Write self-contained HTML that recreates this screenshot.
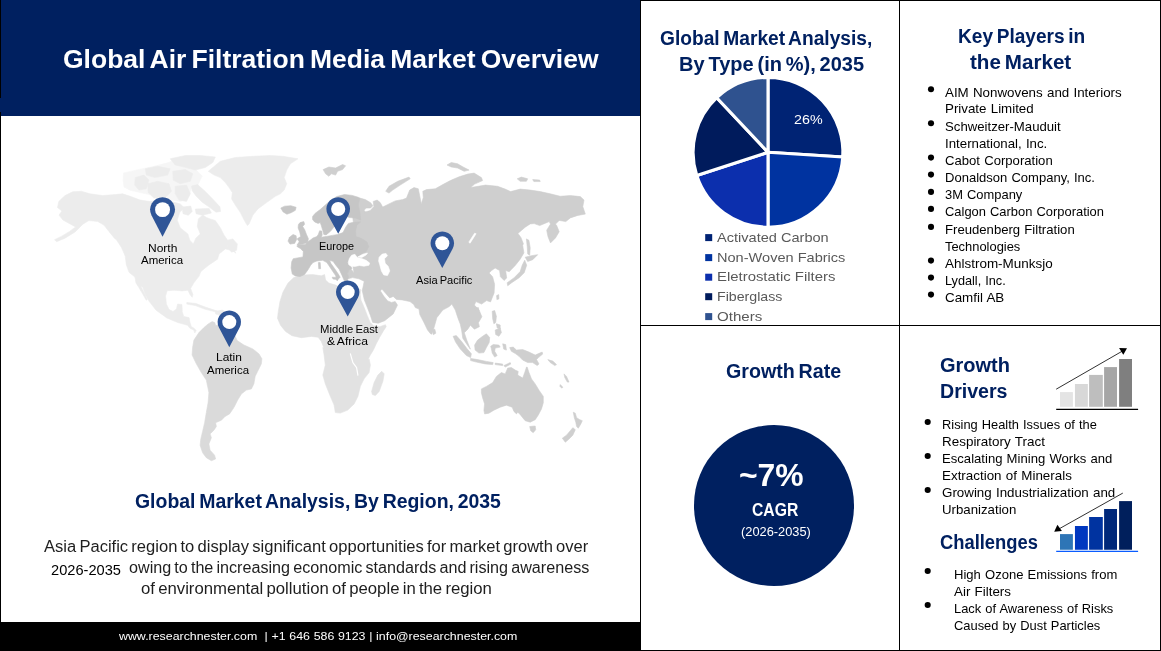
<!DOCTYPE html>
<html lang="en"><head><meta charset="utf-8"><title>Global Air Filtration Media Market Overview</title>
<style>
html,body{margin:0;padding:0;background:#fff}
body{width:1161px;height:651px;position:relative;overflow:hidden;font-family:'Liberation Sans', sans-serif}
.t{position:absolute;white-space:pre;line-height:1;transform-origin:0 50%;display:block}
#hdr{position:absolute;left:0;top:0;width:640px;height:115.6px;background:#002060}
#ftr{position:absolute;left:0;top:622px;width:640px;height:29px;background:#000}
.ln{position:absolute;background:#000}
#art{position:absolute;left:0;top:0}
#cagr{position:absolute;left:693.8px;top:425.3px;width:160.4px;height:160.4px;border-radius:50%;background:#002060}
</style></head><body>
<div id="hdr"></div>
<div id="ftr"></div>
<div id="cagr"></div>
<svg id="art" width="1161" height="651" viewBox="0 0 1161 651">
<g id="map"><path d="M72.6 191.8L65.0 195.6L58.8 201.4L57.5 207.6L62.0 210.9L59.0 215.1L63.0 220.1L70.1 223.9L75.6 226.9L69.6 231.4L61.3 236.4L54.5 239.7L56.5 241.7L65.0 238.2L75.1 231.9L82.6 224.4L88.8 220.6L97.6 221.4L103.9 225.1L108.9 231.4L114.4 238.2L116.6 240.0L121.5 247.5L125.2 256.1L126.3 264.7L129.0 272.3L134.9 277.0L136.0 283.0L138.7 287.3L143.0 294.5L146.3 300.2L147.3 299.5L144.6 293.8L141.5 287.6L140.7 286.6L142.6 286.9L145.3 294.5L148.7 300.7L156.1 310.2L166.8 317.9L177.6 322.5L187.6 325.3L189.9 328.3L193.7 329.9L194.8 332.9L196.3 330.5L193.7 328.0L191.4 326.8L189.9 322.2L189.1 317.6L183.7 316.4L182.2 311.4L182.2 309.1L181.9 304.5L177.6 304.1L176.4 309.1L173.0 311.4L169.1 309.6L166.4 304.1L165.6 296.1L167.1 290.7L174.5 290.2L182.2 290.9L188.0 290.2L189.9 294.5L192.2 297.3L192.9 294.5L190.6 288.4L193.7 283.0L199.1 276.1L200.9 271.5L208.3 265.4L217.5 259.2L219.1 253.9L225.3 248.9L232.8 250.7L235.8 253.2L231.6 245.2L226.6 240.7L230.3 243.9L224.1 235.2L220.3 227.7L215.3 220.6L210.3 218.9L206.5 217.6L202.8 215.1L198.3 218.9L197.3 226.4L200.3 233.9L195.8 238.2L193.3 243.9L189.8 240.2L187.8 233.9L180.2 227.7L177.2 220.1L179.7 212.6L184.0 207.6L180.2 203.9L175.2 202.6L165.2 200.1L150.2 201.6L140.2 200.1L130.2 196.3L122.6 193.8L115.1 194.6L102.6 195.6L90.1 193.8L81.3 191.3Z" fill="#ececec" stroke="#ececec" stroke-width="0.6" stroke-linejoin="round"/>
<path d="M123.1 180.0L123.5 173.0L139.2 169.4L153.0 166.6L168.4 162.6L176.1 159.5L180.7 165.4L194.5 168.4L202.2 176.1L197.6 185.3L191.4 186.9L189.1 196.1L180.7 201.5L168.4 199.5L157.6 196.1L145.4 193.8L130.0 190.2L123.9 186.9Z" fill="#f6f6f6" stroke="#f6f6f6" stroke-width="0.6" stroke-linejoin="round"/>
<path d="M227.3 240.2L232.8 238.9L237.3 243.9L236.6 250.2L231.6 252.2L227.8 247.7Z" fill="#ececec" stroke="#ececec" stroke-width="0.6" stroke-linejoin="round"/>
<path d="M135.2 177.6L143.9 175.1L148.9 180.1L146.4 188.8L138.9 190.1L134.7 185.1Z" fill="#ececec" stroke="#ececec" stroke-width="0.6" stroke-linejoin="round"/>
<path d="M147.7 183.8L157.7 181.3L169.0 183.8L171.5 191.3L165.2 197.6L153.9 198.1L148.2 192.6Z" fill="#ececec" stroke="#ececec" stroke-width="0.6" stroke-linejoin="round"/>
<path d="M145.2 168.8L157.7 166.3L170.2 168.8L167.7 175.1L155.2 177.6L146.4 175.1Z" fill="#ececec" stroke="#ececec" stroke-width="0.6" stroke-linejoin="round"/>
<path d="M172.7 171.3L185.3 169.6L192.8 173.8L190.3 181.3L180.2 183.8L173.2 180.1Z" fill="#ececec" stroke="#ececec" stroke-width="0.6" stroke-linejoin="round"/>
<path d="M175.2 186.3L186.5 185.1L190.3 193.8L186.5 201.4L179.0 200.1L175.2 193.8Z" fill="#ececec" stroke="#ececec" stroke-width="0.6" stroke-linejoin="round"/>
<path d="M170.2 158.8L185.3 155.5L200.3 155.5L215.3 157.0L212.8 162.5L205.3 167.5L195.3 170.1L184.0 167.0L175.2 165.0Z" fill="#ececec" stroke="#ececec" stroke-width="0.6" stroke-linejoin="round"/>
<path d="M191.4 186.1L197.6 184.6L205.3 191.5L212.9 199.2L219.9 206.8L220.6 211.4L216.0 212.2L209.9 207.6L202.2 202.2L196.1 196.1L192.2 190.7Z" fill="#ececec" stroke="#ececec" stroke-width="0.6" stroke-linejoin="round"/>
<path d="M182.2 207.1L190.7 206.1L192.2 211.4L188.4 215.3L183.0 213.7Z" fill="#ececec" stroke="#ececec" stroke-width="0.6" stroke-linejoin="round"/>
<path d="M195.3 209.1L209.1 208.4L211.4 213.0L202.2 215.3L196.1 213.7Z" fill="#ececec" stroke="#ececec" stroke-width="0.6" stroke-linejoin="round"/>
<path d="M212.8 167.5L220.3 161.3L235.3 157.5L252.9 156.3L270.4 155.5L282.9 156.3L298.0 158.8L290.4 163.8L286.7 170.1L284.2 177.6L286.7 183.8L284.2 190.1L280.4 193.8L275.4 196.3L266.6 202.6L257.9 208.9L252.9 215.1L249.1 223.9L247.4 225.6L244.1 220.1L240.4 212.6L235.3 205.1L231.6 198.9L232.3 192.6L229.1 187.6L225.3 182.6L220.3 177.6L214.1 175.1L208.3 171.3Z" fill="#ececec" stroke="#ececec" stroke-width="0.6" stroke-linejoin="round"/>
<path d="M186.8 302.5L196.0 303.5L205.2 307.1L217.5 311.1L216.8 312.2L204.5 309.1L195.3 305.6L186.8 304.1Z" fill="#ececec" stroke="#ececec" stroke-width="0.6" stroke-linejoin="round"/>
<path d="M215.2 311.3L222.7 310.1L226.5 313.1L221.5 315.6L215.7 314.1Z" fill="#ececec" stroke="#ececec" stroke-width="0.6" stroke-linejoin="round"/>
<path d="M203.9 327.6L208.2 323.9L212.2 321.6L214.7 322.6L215.7 325.6L219.7 324.6L230.2 325.6L237.2 340.6L244.0 345.1L252.8 348.9L259.0 353.9L261.9 358.8L261.4 363.8L257.7 371.3L255.2 376.3L253.9 383.8L251.4 388.9L246.4 390.1L241.4 393.9L237.7 400.1L233.9 407.6L229.6 413.9L225.1 416.4L221.4 420.2L215.6 422.7L216.4 426.4L213.9 430.2L210.1 433.9L211.4 437.7L208.9 443.9L210.1 450.2L214.6 455.2L215.6 459.0L211.4 460.7L206.3 457.7L202.6 452.7L200.1 445.2L200.8 438.9L202.6 431.4L204.6 422.7L206.3 412.6L208.1 402.6L208.9 392.6L206.3 380.1L201.3 372.6L196.3 363.8L192.1 355.0L192.6 347.5L193.9 340.1L198.9 332.6Z" fill="#dadada" stroke="#dadada" stroke-width="0.6" stroke-linejoin="round"/>
<path d="M293.8 277.6L302.6 275.1L312.6 274.6L321.3 275.8L324.6 274.6L325.6 280.1L328.9 283.1L335.6 285.1L341.4 288.1L345.1 285.6L351.4 286.3L356.4 288.1L360.7 289.6L360.2 294.6L360.9 300.1L364.2 307.6L367.2 315.4L370.2 322.4L373.4 325.7L379.7 326.7L385.5 324.7L386.2 326.7L383.4 330.9L379.7 337.2L376.4 343.4L373.4 350.0L370.2 355.2L367.7 360.2L369.1 358.8L370.4 365.1L369.1 372.6L364.1 378.8L360.4 386.3L357.9 396.4L354.1 403.9L347.8 410.1L340.3 413.1L335.3 412.6L334.1 405.1L329.8 395.1L325.3 383.8L322.8 375.1L325.3 365.1L324.1 355.0L322.8 347.5L323.8 347.7L321.3 341.4L318.1 337.2L311.3 336.4L301.3 337.7L292.0 335.7L285.5 331.4L280.5 325.2L277.5 318.2L278.3 311.4L280.0 301.4L283.0 292.1L288.0 283.1Z" fill="#e2e2e2" stroke="#e2e2e2" stroke-width="0.6" stroke-linejoin="round"/>
<path d="M371.6 391.4L374.1 382.6L377.9 375.1L381.7 371.3L384.2 373.8L382.9 381.3L379.2 391.4L375.4 395.6L372.4 394.6Z" fill="#e2e2e2" stroke="#e2e2e2" stroke-width="0.6" stroke-linejoin="round"/>
<path d="M359.9 198.1L365.3 199.6L370.6 202.7L372.9 205.7L370.6 208.0L366.0 208.0L364.2 210.3L366.3 213.4L363.2 212.6L370.2 210.6L373.9 206.4L373.2 201.4L377.2 200.1L380.2 202.6L382.7 207.1L389.0 203.9L395.2 200.9L402.7 199.6L406.5 198.1L409.7 190.1L414.0 187.6L418.3 188.8L419.8 196.3L421.3 203.9L423.3 197.6L422.8 191.3L426.5 189.6L435.3 188.8L442.8 184.6L450.3 180.6L459.1 176.8L467.8 174.1L474.1 173.1L481.4 177.6L482.6 180.6L474.6 184.1L470.6 187.6L478.1 186.3L485.6 185.1L497.6 186.3L505.1 189.1L510.7 191.6L520.2 189.1L530.2 190.1L540.2 191.6L550.2 193.8L560.2 196.3L570.3 195.6L580.3 196.6L584.0 200.1L582.8 206.6L585.3 214.1L577.8 215.4L570.3 217.9L565.8 221.6L559.2 220.4L555.5 224.1L556.7 225.6L559.2 231.7L555.5 237.9L550.5 242.9L548.0 236.7L546.7 230.2L550.5 224.1L549.2 221.6L546.0 222.9L539.7 225.6L534.2 223.6L530.2 223.9L525.2 227.2L517.9 233.4L520.9 237.4L523.4 243.7L522.7 245.4L523.9 252.9L520.2 259.2L515.2 265.5L509.2 271.7L505.6 270.5L506.7 278.0L504.1 280.5L500.4 276.7L499.6 270.5L495.1 268.0L491.6 270.5L489.1 273.0L492.6 276.7L494.6 284.3L494.1 293.0L490.6 301.8L490.6 301.9L486.6 300.6L481.6 304.1L475.9 301.6L474.4 305.1L479.1 310.1L481.9 316.7L478.4 322.7L479.4 326.7L474.4 329.2L470.4 325.2L467.8 329.2L464.3 332.7L466.8 340.2L470.4 349.2L467.8 345.7L462.8 338.2L461.6 330.2L460.3 324.2L457.8 317.7L455.3 310.1L451.8 304.1L449.3 306.6L442.8 310.1L436.8 317.7L434.3 326.7L431.8 334.2L430.5 333.7L427.5 329.9L423.8 322.2L419.8 314.6L419.0 309.1L415.3 307.6L413.8 304.6L410.0 301.6L402.2 299.9L396.5 299.4L393.2 296.4L389.7 297.9L381.9 289.1L380.4 290.9L383.7 296.1L387.7 300.9L391.5 302.4L395.2 301.6L397.5 305.1L393.2 313.9L384.7 320.7L378.2 323.2L372.7 322.4L370.4 315.4L367.4 307.6L364.4 300.1L362.2 290.4L363.2 286.3L364.2 281.3L358.9 278.8L352.6 277.6L348.1 278.8L347.6 272.6L349.6 267.6L354.1 272.7L352.6 265.2L355.1 240.2L352.6 215.1Z" fill="#cfcfcf" stroke="#cfcfcf" stroke-width="0.6" stroke-linejoin="round"/>
<path d="M385.7 191.3L389.0 186.3L397.7 181.3L409.0 177.1L410.2 178.8L400.2 185.1L392.7 190.1L389.0 193.1Z" fill="#cfcfcf" stroke="#cfcfcf" stroke-width="0.6" stroke-linejoin="round"/>
<path d="M447.0 165.0L451.3 162.5L457.6 163.8L463.1 167.0L469.1 170.1L464.1 171.3L457.6 168.0L451.3 167.0Z" fill="#cfcfcf" stroke="#cfcfcf" stroke-width="0.6" stroke-linejoin="round"/>
<path d="M517.2 178.8L521.4 177.1L527.7 178.8L526.4 181.3L520.2 181.3Z" fill="#cfcfcf" stroke="#cfcfcf" stroke-width="0.6" stroke-linejoin="round"/>
<path d="M532.7 179.6L539.7 180.1L540.2 181.6L533.9 181.6Z" fill="#cfcfcf" stroke="#cfcfcf" stroke-width="0.6" stroke-linejoin="round"/>
<path d="M526.4 238.9L528.9 240.2L530.2 247.7L529.7 255.2L527.7 253.9L527.2 246.4Z" fill="#cfcfcf" stroke="#cfcfcf" stroke-width="0.6" stroke-linejoin="round"/>
<path d="M525.2 257.2L531.4 255.7L537.7 254.7L532.7 259.7L527.7 261.5Z" fill="#cfcfcf" stroke="#cfcfcf" stroke-width="0.6" stroke-linejoin="round"/>
<path d="M524.7 260.2L526.7 265.2L524.2 272.7L519.2 277.7L511.7 282.7L507.7 285.8L507.2 282.7L514.2 277.7L520.2 271.5L522.2 265.2Z" fill="#cfcfcf" stroke="#cfcfcf" stroke-width="0.6" stroke-linejoin="round"/>
<path d="M432.3 329.7L434.8 329.2L435.8 333.2L433.3 334.7Z" fill="#cfcfcf" stroke="#cfcfcf" stroke-width="0.6" stroke-linejoin="round"/>
<path d="M496.6 295.6L498.7 294.6L498.9 298.9L496.9 299.6Z" fill="#cfcfcf" stroke="#cfcfcf" stroke-width="0.6" stroke-linejoin="round"/>
<path d="M474.9 308.1L478.4 307.6L478.9 310.6L475.4 311.1Z" fill="#cfcfcf" stroke="#cfcfcf" stroke-width="0.6" stroke-linejoin="round"/>
<path d="M453.1 336.3L456.3 335.6L461.4 341.3L467.1 348.8L471.4 353.8L470.6 357.6L466.4 355.6L460.1 348.8L455.6 342.1Z" fill="#cfcfcf" stroke="#cfcfcf" stroke-width="0.6" stroke-linejoin="round"/>
<path d="M470.6 358.4L477.6 359.6L486.4 361.4L493.2 362.6L492.7 364.6L485.1 363.9L476.4 362.1L470.6 360.6Z" fill="#cfcfcf" stroke="#cfcfcf" stroke-width="0.6" stroke-linejoin="round"/>
<path d="M495.2 363.1L502.7 364.1L502.7 365.6L495.2 364.6Z" fill="#cfcfcf" stroke="#cfcfcf" stroke-width="0.6" stroke-linejoin="round"/>
<path d="M503.9 365.6L510.2 362.6L510.7 364.1L505.2 367.1Z" fill="#cfcfcf" stroke="#cfcfcf" stroke-width="0.6" stroke-linejoin="round"/>
<path d="M474.6 345.1L477.6 340.1L482.6 336.3L486.4 333.8L489.7 337.6L489.2 342.6L486.4 347.6L483.9 352.6L478.9 353.1L475.1 350.1Z" fill="#cfcfcf" stroke="#cfcfcf" stroke-width="0.6" stroke-linejoin="round"/>
<path d="M490.7 346.3L493.2 344.6L498.9 345.1L500.2 347.1L495.2 348.1L494.7 351.3L497.2 355.6L494.7 357.1L492.2 353.1L491.4 348.8Z" fill="#cfcfcf" stroke="#cfcfcf" stroke-width="0.6" stroke-linejoin="round"/>
<path d="M492.2 311.3L494.7 310.5L496.4 316.3L495.7 322.5L493.9 323.8L492.7 318.8Z" fill="#cfcfcf" stroke="#cfcfcf" stroke-width="0.6" stroke-linejoin="round"/>
<path d="M496.4 323.8L500.2 325.0L500.2 328.8L497.2 328.0Z" fill="#cfcfcf" stroke="#cfcfcf" stroke-width="0.6" stroke-linejoin="round"/>
<path d="M495.2 330.1L500.2 328.0L501.4 332.6L498.9 336.3L495.7 334.6Z" fill="#cfcfcf" stroke="#cfcfcf" stroke-width="0.6" stroke-linejoin="round"/>
<path d="M502.7 343.8L505.7 344.6L506.4 350.1L503.7 349.1Z" fill="#cfcfcf" stroke="#cfcfcf" stroke-width="0.6" stroke-linejoin="round"/>
<path d="M509.7 347.6L513.2 347.1L516.5 350.1L522.7 349.6L529.0 352.1L535.2 355.1L539.7 353.1L542.2 352.1L542.7 354.1L539.0 357.1L536.5 359.6L539.0 363.9L537.2 365.6L532.7 362.6L527.7 362.6L522.7 360.1L519.0 356.3L515.7 353.8L511.4 351.3Z" fill="#cfcfcf" stroke="#cfcfcf" stroke-width="0.6" stroke-linejoin="round"/>
<path d="M547.8 359.6L552.8 361.1L556.5 364.6L554.8 365.6L550.3 362.6Z" fill="#cfcfcf" stroke="#cfcfcf" stroke-width="0.6" stroke-linejoin="round"/>
<path d="M564.0 373.9L566.5 376.4L569.0 382.1L567.3 382.1L564.8 377.6Z" fill="#cfcfcf" stroke="#cfcfcf" stroke-width="0.6" stroke-linejoin="round"/>
<path d="M560.3 384.6L562.8 387.2L561.8 388.2L559.8 386.2Z" fill="#cfcfcf" stroke="#cfcfcf" stroke-width="0.6" stroke-linejoin="round"/>
<path d="M481.4 388.9L486.4 386.4L492.7 382.6L496.4 376.4L501.4 372.6L505.2 373.9L507.7 368.1L511.4 367.6L515.2 370.1L518.2 371.4L517.7 375.1L522.7 378.1L524.7 372.6L526.5 367.1L527.2 367.1L529.0 372.6L531.5 378.9L535.2 383.9L539.0 390.2L543.3 396.4L543.3 402.7L541.5 408.9L538.2 415.2L535.2 419.7L530.2 422.2L525.2 420.7L522.7 417.7L519.7 413.9L517.7 412.2L516.5 413.9L513.9 411.4L512.2 407.2L506.4 405.2L500.2 407.2L493.9 410.2L488.9 413.2L484.6 413.9L483.9 410.2L484.6 403.9L482.6 397.7L481.4 392.7Z" fill="#cfcfcf" stroke="#cfcfcf" stroke-width="0.6" stroke-linejoin="round"/>
<path d="M529.7 426.5L535.2 426.0L535.7 429.7L533.2 432.7L530.7 430.7Z" fill="#cfcfcf" stroke="#cfcfcf" stroke-width="0.6" stroke-linejoin="round"/>
<path d="M573.3 412.2L575.3 413.2L576.6 417.7L579.8 419.7L582.3 420.7L580.8 424.0L578.3 428.2L576.6 426.5L575.8 422.2L574.3 417.7Z" fill="#cfcfcf" stroke="#cfcfcf" stroke-width="0.6" stroke-linejoin="round"/>
<path d="M572.8 427.7L575.3 429.7L572.8 435.2L568.3 439.7L565.3 442.2L562.3 438.2L566.5 435.2L570.3 430.7Z" fill="#cfcfcf" stroke="#cfcfcf" stroke-width="0.6" stroke-linejoin="round"/>
<path d="M319.6 230.8L321.8 231.1L322.2 234.9L321.2 237.2L326.1 236.5L332.2 235.4L337.6 234.5L343.0 232.6L344.5 229.5L346.1 226.5L348.4 223.4L352.2 222.6L358.3 221.9L360.6 221.9L356.8 225.2L355.6 231.1L356.0 236.5L361.4 238.5L366.8 241.8L368.8 246.4L366.3 251.4L361.4 253.8L359.9 255.4L356.8 257.2L353.7 256.0L351.0 257.2L349.4 260.6L350.4 264.9L351.9 268.7L349.1 269.8L347.6 273.3L348.4 277.2L346.4 283.3L344.2 280.5L341.8 274.9L339.1 269.2L335.6 264.9L333.0 261.3L329.5 260.3L331.0 263.6L334.7 268.7L338.1 273.8L340.2 277.2L338.4 279.0L337.1 281.0L335.6 275.6L331.5 269.5L326.9 262.6L322.7 260.3L316.9 261.0L313.0 262.6L310.7 265.2L308.0 269.8L304.6 274.4L300.0 276.6L295.4 275.9L292.3 274.1L291.1 267.9L291.7 261.8L293.2 258.7L303.0 256.9L303.3 251.4L300.7 248.7L296.9 246.4L298.1 244.9L305.3 244.6L307.3 242.1L310.1 240.3L313.0 238.0L316.9 236.5L318.4 234.2Z" fill="#c6c6c6" stroke="#c6c6c6" stroke-width="0.6" stroke-linejoin="round"/>
<path d="M312.6 216.5L315.0 213.4L320.2 209.6L325.3 205.0L330.7 200.4L336.8 196.5L344.5 194.5L352.2 195.4L358.3 197.3L359.9 198.1L358.3 205.0L359.9 212.6L360.6 220.0L355.3 218.0L349.9 217.6L346.1 216.5L345.3 212.6L346.8 208.0L347.6 204.2L346.1 201.9L343.0 204.2L340.7 209.6L339.1 215.7L337.6 221.9L335.3 225.2L330.7 231.1L326.1 234.9L323.8 234.5L322.7 230.3L321.2 225.2L320.2 222.6L318.1 223.4L314.6 221.9L312.6 219.6Z" fill="#c6c6c6" stroke="#c6c6c6" stroke-width="0.6" stroke-linejoin="round"/>
<path d="M300.0 222.6L303.8 221.6L304.6 224.2L302.7 226.5L304.6 229.5L306.4 234.2L308.4 238.8L307.6 242.6L303.0 244.1L296.9 245.2L299.2 241.8L297.2 238.8L300.7 236.5L299.7 231.9L298.1 228.0L298.4 224.6Z" fill="#c6c6c6" stroke="#c6c6c6" stroke-width="0.6" stroke-linejoin="round"/>
<path d="M289.5 237.2L293.1 234.5L296.1 235.7L296.6 239.5L294.6 243.4L290.0 244.1L288.0 241.1Z" fill="#c6c6c6" stroke="#c6c6c6" stroke-width="0.6" stroke-linejoin="round"/>
<path d="M280.8 208.0L284.6 206.2L290.8 205.7L296.1 207.3L295.4 210.3L291.5 212.6L286.9 214.2L283.1 211.9Z" fill="#c6c6c6" stroke="#c6c6c6" stroke-width="0.6" stroke-linejoin="round"/>
<path d="M318.4 262.6L320.2 262.6L320.6 268.7L318.7 268.7Z" fill="#c6c6c6" stroke="#c6c6c6" stroke-width="0.6" stroke-linejoin="round"/>
<path d="M332.2 277.2L337.6 277.5L337.1 279.6L333.0 279.0Z" fill="#c6c6c6" stroke="#c6c6c6" stroke-width="0.6" stroke-linejoin="round"/>
<path d="M323.1 169.6L328.9 167.0L335.6 168.0L342.6 164.5L345.6 165.8L342.6 169.6L337.6 171.3L335.6 175.1L331.4 173.8L328.9 176.3L325.6 173.8Z" fill="#cfcfcf" stroke="#cfcfcf" stroke-width="0.6" stroke-linejoin="round"/>
<path d="M348.2 262.5L349.3 258.6L351.6 255.2L354.9 254.3L357.2 257.5L361.7 258.6L366.1 260.3L369.7 263.1L368.9 265.3L363.9 266.2L359.4 265.5L354.9 266.4L351.0 266.2L348.8 264.7Z" fill="#ffffff" stroke="#ffffff" stroke-width="0.6" stroke-linejoin="round"/>
<path d="M357.7 256.9L362.8 254.3L367.5 253.0L366.1 255.0L361.7 257.5Z" fill="#ffffff" stroke="#ffffff" stroke-width="0.6" stroke-linejoin="round"/>
<path d="M379.1 257.2L382.2 254.1L386.0 253.4L387.5 255.7L384.5 258.7L385.2 263.3L388.3 266.4L389.8 271.0L387.5 275.6L383.7 274.9L381.4 271.0L379.8 264.9L378.6 261.0Z" fill="#ffffff" stroke="#ffffff" stroke-width="0.6" stroke-linejoin="round"/>
<path d="M468.8 242.2L474.6 233.2L476.1 233.7L470.1 243.2Z" fill="#ffffff" stroke="#ffffff" stroke-width="0.6" stroke-linejoin="round"/>
<path d="M350.4 353.8L352.9 362.6L356.6 367.6L357.9 375.1" fill="none" stroke="#fff" stroke-width="1.2" stroke-linecap="round" stroke-linejoin="round"/></g>
<g id="pins"><path d="M151.48 215.35A12.45 12.45 0 1 1 173.62 215.35L162.55 236.85Z" fill="#2f5597"/><circle cx="162.55" cy="209.65" r="7.47" fill="#fff"/><path d="M327.82 214.68A11.82 11.82 0 1 1 348.58 214.68L338.20 233.75Z" fill="#2f5597"/><circle cx="338.20" cy="209.02" r="7.09" fill="#fff"/><path d="M431.97 248.85A11.75 11.75 0 1 1 452.63 248.85L442.30 267.90Z" fill="#2f5597"/><circle cx="442.30" cy="243.25" r="7.05" fill="#fff"/><path d="M337.45 297.73A11.70 11.70 0 1 1 357.95 297.73L347.70 316.40Z" fill="#2f5597"/><circle cx="347.70" cy="292.10" r="7.02" fill="#fff"/><path d="M218.95 327.55A11.70 11.70 0 1 1 239.65 327.55L229.30 347.20Z" fill="#2f5597"/><circle cx="229.30" cy="322.10" r="7.02" fill="#fff"/></g>
<g id="pie"><path d="M768 152.3L768.00 77.40A74.9 74.9 0 0 1 842.75 157.00Z" fill="#002374" stroke="#fff" stroke-width="3.1" stroke-linejoin="round"/>
<path d="M768 152.3L842.75 157.00A74.9 74.9 0 0 1 768.00 227.20Z" fill="#0033a0" stroke="#fff" stroke-width="3.1" stroke-linejoin="round"/>
<path d="M768 152.3L768.00 227.20A74.9 74.9 0 0 1 696.77 175.45Z" fill="#0c2fad" stroke="#fff" stroke-width="3.1" stroke-linejoin="round"/>
<path d="M768 152.3L696.77 175.45A74.9 74.9 0 0 1 716.73 97.70Z" fill="#001b5c" stroke="#fff" stroke-width="3.1" stroke-linejoin="round"/>
<path d="M768 152.3L716.73 97.70A74.9 74.9 0 0 1 768.00 77.40Z" fill="#2f528f" stroke="#fff" stroke-width="3.1" stroke-linejoin="round"/></g>
<g id="legend"><rect x="705.2" y="234.1" width="7" height="7" fill="#002374"/><rect x="705.2" y="254.1" width="7" height="7" fill="#0033a0"/><rect x="705.2" y="273.7" width="7" height="7" fill="#0c2fad"/><rect x="705.2" y="293.2" width="7" height="7" fill="#001b5c"/><rect x="705.2" y="313.1" width="7" height="7" fill="#2f528f"/></g>
<g id="bullets"><circle cx="931" cy="89.3" r="3.05" fill="#000"/><circle cx="931" cy="123.3" r="3.05" fill="#000"/><circle cx="931" cy="157.6" r="3.05" fill="#000"/><circle cx="931" cy="174.6" r="3.05" fill="#000"/><circle cx="931" cy="191.9" r="3.05" fill="#000"/><circle cx="931" cy="208.9" r="3.05" fill="#000"/><circle cx="931" cy="226.9" r="3.05" fill="#000"/><circle cx="931" cy="260.6" r="3.05" fill="#000"/><circle cx="931" cy="277.6" r="3.05" fill="#000"/><circle cx="931" cy="294.6" r="3.05" fill="#000"/><circle cx="927.7" cy="422" r="3.05" fill="#000"/><circle cx="927.7" cy="456" r="3.05" fill="#000"/><circle cx="927.7" cy="490" r="3.05" fill="#000"/><circle cx="927.7" cy="571" r="3.05" fill="#000"/><circle cx="927.7" cy="605" r="3.05" fill="#000"/></g>
<g id="icons"><rect x="1060" y="392.1" width="12.90" height="14.70" fill="#e4e4e4"/>
<rect x="1074.95" y="384.0" width="12.90" height="22.80" fill="#d8d8d8"/>
<rect x="1089.1" y="374.9" width="13.70" height="31.90" fill="#bebebe"/>
<rect x="1104.1" y="367.1" width="12.90" height="39.70" fill="#a6a6a6"/>
<rect x="1119.1" y="359.0" width="12.90" height="47.80" fill="#7f7f7f"/>
<line x1="1056.2" y1="409.35" x2="1138.1" y2="409.35" stroke="#000" stroke-width="1.2"/>
<line x1="1056.2" y1="389.2" x2="1122" y2="351.3" stroke="#1a1a1a" stroke-width="0.9"/>
<path d="M1119.1 348.1L1127 348.3L1123.3 354.8Z" fill="#000"/>
<rect x="1060" y="534.1" width="12.90" height="15.65" fill="#2e75b6"/>
<rect x="1074.95" y="526.0" width="12.90" height="23.75" fill="#0037c0"/>
<rect x="1089.1" y="517.0" width="13.70" height="32.75" fill="#0033a0"/>
<rect x="1104.1" y="509.0" width="12.90" height="40.75" fill="#00287a"/>
<rect x="1119.1" y="501.1" width="12.90" height="48.65" fill="#001f5c"/>
<line x1="1056.2" y1="551.35" x2="1138.1" y2="551.35" stroke="#0a5cff" stroke-width="1.3"/>
<line x1="1122.8" y1="493.1" x2="1058.5" y2="529.2" stroke="#1a1a1a" stroke-width="0.9"/>
<path d="M1054.2 531.7L1061.9 531.1L1057.4 524.7Z" fill="#000"/></g>
</svg>
<div class="ln" style="left:0;top:0;width:1px;height:98px"></div>
<div class="ln" style="left:0;top:112px;width:1px;height:539px"></div>
<div class="ln" style="left:640px;top:0;width:1px;height:651px"></div>
<div class="ln" style="left:899px;top:0;width:1px;height:651px"></div>
<div class="ln" style="left:1160px;top:0;width:1px;height:651px"></div>
<div class="ln" style="left:640px;top:0;width:521px;height:1px"></div>
<div class="ln" style="left:640px;top:325px;width:521px;height:1px"></div>
<div class="ln" style="left:640px;top:650px;width:521px;height:1px"></div>
<span class="t" id="t0" style="left:63.40px;top:46.00px;font-size:26.67px;font-weight:700;color:#fff;font-family:'Liberation Sans', sans-serif;word-spacing:-0.085em;transform:scaleX(0.9942)">Global Air Filtration Media Market Overview</span>
<span class="t" id="t1" style="left:135.10px;top:491.00px;font-size:20px;font-weight:700;color:#002060;font-family:'Liberation Sans', sans-serif;word-spacing:-0.085em;transform:scaleX(0.9720)">Global Market Analysis, By Region, 2035</span>
<span class="t" id="t2" style="left:44.40px;top:539.00px;font-size:16px;font-weight:400;color:#1e1e1e;font-family:'Liberation Sans', sans-serif;word-spacing:-0.085em;transform:scaleX(1.0344)">Asia Pacific region to display significant opportunities for market growth over</span>
<span class="t" id="t3" style="left:51.40px;top:563.00px;font-size:14.4px;font-weight:400;color:#000;font-family:'Liberation Sans', sans-serif;word-spacing:0em;transform:scaleX(1.0156)">2026-2035</span>
<span class="t" id="t4" style="left:129.40px;top:560.00px;font-size:16px;font-weight:400;color:#1e1e1e;font-family:'Liberation Sans', sans-serif;word-spacing:-0.085em;transform:scaleX(1.0093)">owing to the increasing economic standards and rising awareness</span>
<span class="t" id="t5" style="left:141.40px;top:581.00px;font-size:16px;font-weight:400;color:#1e1e1e;font-family:'Liberation Sans', sans-serif;word-spacing:-0.085em;transform:scaleX(1.0456)">of environmental pollution of people in the region</span>
<span class="t" id="t6" style="left:119.40px;top:631.00px;font-size:11.5px;font-weight:400;color:#fff;font-family:'Liberation Sans', sans-serif;word-spacing:0.02em;transform:scaleX(1.0761)">www.researchnester.com  | +1 646 586 9123 | info@researchnester.com</span>
<span class="t" id="t7" style="left:147.60px;top:244.00px;font-size:10.4px;font-weight:400;color:#000;font-family:'Liberation Sans', sans-serif;word-spacing:-0.085em;transform:scaleX(1.1565)">North</span>
<span class="t" id="t8" style="left:141.20px;top:256.00px;font-size:10.4px;font-weight:400;color:#000;font-family:'Liberation Sans', sans-serif;word-spacing:-0.085em;transform:scaleX(1.1021)">America</span>
<span class="t" id="t9" style="left:318.80px;top:242.00px;font-size:10.4px;font-weight:400;color:#000;font-family:'Liberation Sans', sans-serif;word-spacing:-0.085em;transform:scaleX(1.0443)">Europe</span>
<span class="t" id="t10" style="left:415.60px;top:276.00px;font-size:10.4px;font-weight:400;color:#000;font-family:'Liberation Sans', sans-serif;word-spacing:-0.085em;transform:scaleX(1.0676)">Asia Pacific</span>
<span class="t" id="t11" style="left:319.90px;top:325.00px;font-size:10.4px;font-weight:400;color:#000;font-family:'Liberation Sans', sans-serif;word-spacing:-0.085em;transform:scaleX(1.0860)">Middle East</span>
<span class="t" id="t12" style="left:327.40px;top:337.00px;font-size:10.4px;font-weight:400;color:#000;font-family:'Liberation Sans', sans-serif;word-spacing:-0.085em;transform:scaleX(1.1712)">&amp; Africa</span>
<span class="t" id="t13" style="left:215.90px;top:353.00px;font-size:10.4px;font-weight:400;color:#000;font-family:'Liberation Sans', sans-serif;word-spacing:-0.085em;transform:scaleX(1.1487)">Latin</span>
<span class="t" id="t14" style="left:207.30px;top:366.00px;font-size:10.4px;font-weight:400;color:#000;font-family:'Liberation Sans', sans-serif;word-spacing:-0.085em;transform:scaleX(1.1021)">America</span>
<span class="t" id="t15" style="left:660.40px;top:28.00px;font-size:20px;font-weight:700;color:#002060;font-family:'Liberation Sans', sans-serif;word-spacing:-0.085em;transform:scaleX(0.9585)">Global Market Analysis,</span>
<span class="t" id="t16" style="left:678.60px;top:54.00px;font-size:20px;font-weight:700;color:#002060;font-family:'Liberation Sans', sans-serif;word-spacing:-0.085em;transform:scaleX(0.9999)">By Type (in %), 2035</span>
<span class="t" id="t17" style="left:793.70px;top:113.00px;font-size:13.3px;font-weight:400;color:#fff;font-family:'Liberation Sans', sans-serif;word-spacing:-0.085em;transform:scaleX(1.0742)">26%</span>
<span class="t" id="t18" style="left:716.50px;top:231.00px;font-size:13.3px;font-weight:400;color:#595959;font-family:'Liberation Sans', sans-serif;word-spacing:0em;transform:scaleX(1.0951)">Activated Carbon</span>
<span class="t" id="t19" style="left:716.50px;top:251.00px;font-size:13.3px;font-weight:400;color:#595959;font-family:'Liberation Sans', sans-serif;word-spacing:0em;transform:scaleX(1.0950)">Non-Woven Fabrics</span>
<span class="t" id="t20" style="left:716.50px;top:270.00px;font-size:13.3px;font-weight:400;color:#595959;font-family:'Liberation Sans', sans-serif;word-spacing:0em;transform:scaleX(1.1204)">Eletrostatic Filters</span>
<span class="t" id="t21" style="left:716.50px;top:290.00px;font-size:13.3px;font-weight:400;color:#595959;font-family:'Liberation Sans', sans-serif;word-spacing:0em;transform:scaleX(1.0661)">Fiberglass</span>
<span class="t" id="t22" style="left:716.50px;top:310.00px;font-size:13.3px;font-weight:400;color:#595959;font-family:'Liberation Sans', sans-serif;word-spacing:0em;transform:scaleX(1.1352)">Others</span>
<span class="t" id="t23" style="left:957.80px;top:26.00px;font-size:20px;font-weight:700;color:#002060;font-family:'Liberation Sans', sans-serif;word-spacing:-0.085em;transform:scaleX(0.9538)">Key Players in</span>
<span class="t" id="t24" style="left:969.80px;top:52.00px;font-size:20px;font-weight:700;color:#002060;font-family:'Liberation Sans', sans-serif;word-spacing:-0.085em;transform:scaleX(1.0290)">the Market</span>
<span class="t" id="t25" style="left:945.00px;top:87.00px;font-size:12.8px;font-weight:400;color:#000;font-family:'Liberation Sans', sans-serif;word-spacing:0.04em;transform:scaleX(1.0431)">AIM Nonwovens and Interiors</span>
<span class="t" id="t26" style="left:945.00px;top:103.00px;font-size:12.8px;font-weight:400;color:#000;font-family:'Liberation Sans', sans-serif;word-spacing:0.04em;transform:scaleX(1.0416)">Private Limited</span>
<span class="t" id="t27" style="left:945.00px;top:121.00px;font-size:12.8px;font-weight:400;color:#000;font-family:'Liberation Sans', sans-serif;word-spacing:0.04em;transform:scaleX(1.0296)">Schweitzer-Mauduit</span>
<span class="t" id="t28" style="left:945.00px;top:138.00px;font-size:12.8px;font-weight:400;color:#000;font-family:'Liberation Sans', sans-serif;word-spacing:0.04em;transform:scaleX(1.0366)">International, Inc.</span>
<span class="t" id="t29" style="left:945.00px;top:155.00px;font-size:12.8px;font-weight:400;color:#000;font-family:'Liberation Sans', sans-serif;word-spacing:0.04em;transform:scaleX(1.0248)">Cabot Corporation</span>
<span class="t" id="t30" style="left:945.00px;top:172.00px;font-size:12.8px;font-weight:400;color:#000;font-family:'Liberation Sans', sans-serif;word-spacing:0.04em;transform:scaleX(1.0181)">Donaldson Company, Inc.</span>
<span class="t" id="t31" style="left:945.00px;top:189.00px;font-size:12.8px;font-weight:400;color:#000;font-family:'Liberation Sans', sans-serif;word-spacing:0.04em;transform:scaleX(1.0088)">3M Company</span>
<span class="t" id="t32" style="left:945.00px;top:206.00px;font-size:12.8px;font-weight:400;color:#000;font-family:'Liberation Sans', sans-serif;word-spacing:0.04em;transform:scaleX(1.0093)">Calgon Carbon Corporation</span>
<span class="t" id="t33" style="left:945.00px;top:224.00px;font-size:12.8px;font-weight:400;color:#000;font-family:'Liberation Sans', sans-serif;word-spacing:0.04em;transform:scaleX(1.0259)">Freudenberg Filtration</span>
<span class="t" id="t34" style="left:945.00px;top:241.00px;font-size:12.8px;font-weight:400;color:#000;font-family:'Liberation Sans', sans-serif;word-spacing:0.04em;transform:scaleX(1.0080)">Technologies</span>
<span class="t" id="t35" style="left:945.00px;top:258.00px;font-size:12.8px;font-weight:400;color:#000;font-family:'Liberation Sans', sans-serif;word-spacing:0.04em;transform:scaleX(1.0517)">Ahlstrom-Munksjo</span>
<span class="t" id="t36" style="left:945.00px;top:275.00px;font-size:12.8px;font-weight:400;color:#000;font-family:'Liberation Sans', sans-serif;word-spacing:0.04em;transform:scaleX(0.9915)">Lydall, Inc.</span>
<span class="t" id="t37" style="left:945.00px;top:292.00px;font-size:12.8px;font-weight:400;color:#000;font-family:'Liberation Sans', sans-serif;word-spacing:0.04em;transform:scaleX(1.0458)">Camfil AB</span>
<span class="t" id="t38" style="left:726.00px;top:361.00px;font-size:20px;font-weight:700;color:#002060;font-family:'Liberation Sans', sans-serif;word-spacing:-0.085em;transform:scaleX(0.9829)">Growth Rate</span>
<span class="t" id="t39" style="left:738.80px;top:459.00px;font-size:32px;font-weight:700;color:#fff;font-family:'Liberation Sans', sans-serif;word-spacing:-0.085em;transform:scaleX(0.9948)">~7%</span>
<span class="t" id="t40" style="left:751.90px;top:502.00px;font-size:17.6px;font-weight:700;color:#fff;font-family:'Liberation Sans', sans-serif;word-spacing:-0.085em;transform:scaleX(0.8936)">CAGR</span>
<span class="t" id="t41" style="left:741.40px;top:526.00px;font-size:12.3px;font-weight:400;color:#fff;font-family:'Liberation Sans', sans-serif;word-spacing:0em;transform:scaleX(1.0418)">(2026-2035)</span>
<span class="t" id="t42" style="left:939.80px;top:355.00px;font-size:20px;font-weight:700;color:#002060;font-family:'Liberation Sans', sans-serif;word-spacing:-0.085em;transform:scaleX(0.9986)">Growth</span>
<span class="t" id="t43" style="left:939.80px;top:381.00px;font-size:20px;font-weight:700;color:#002060;font-family:'Liberation Sans', sans-serif;word-spacing:-0.085em;transform:scaleX(0.9791)">Drivers</span>
<span class="t" id="t44" style="left:942.40px;top:419.00px;font-size:12.8px;font-weight:400;color:#000;font-family:'Liberation Sans', sans-serif;word-spacing:0.04em;transform:scaleX(1.0040)">Rising Health Issues of the</span>
<span class="t" id="t45" style="left:942.40px;top:436.00px;font-size:12.8px;font-weight:400;color:#000;font-family:'Liberation Sans', sans-serif;word-spacing:0.04em;transform:scaleX(1.0505)">Respiratory Tract</span>
<span class="t" id="t46" style="left:942.40px;top:453.00px;font-size:12.8px;font-weight:400;color:#000;font-family:'Liberation Sans', sans-serif;word-spacing:0.04em;transform:scaleX(1.0239)">Escalating Mining Works and</span>
<span class="t" id="t47" style="left:942.40px;top:470.00px;font-size:12.8px;font-weight:400;color:#000;font-family:'Liberation Sans', sans-serif;word-spacing:0.04em;transform:scaleX(1.0469)">Extraction of Minerals</span>
<span class="t" id="t48" style="left:942.40px;top:487.00px;font-size:12.8px;font-weight:400;color:#000;font-family:'Liberation Sans', sans-serif;word-spacing:0.04em;transform:scaleX(1.0436)">Growing Industrialization and</span>
<span class="t" id="t49" style="left:942.40px;top:504.00px;font-size:12.8px;font-weight:400;color:#000;font-family:'Liberation Sans', sans-serif;word-spacing:0.04em;transform:scaleX(1.0340)">Urbanization</span>
<span class="t" id="t50" style="left:939.80px;top:532.00px;font-size:20px;font-weight:700;color:#002060;font-family:'Liberation Sans', sans-serif;word-spacing:-0.085em;transform:scaleX(0.9175)">Challenges</span>
<span class="t" id="t51" style="left:954.00px;top:569.00px;font-size:12.8px;font-weight:400;color:#000;font-family:'Liberation Sans', sans-serif;word-spacing:0.04em;transform:scaleX(1.0197)">High Ozone Emissions from</span>
<span class="t" id="t52" style="left:954.00px;top:586.00px;font-size:12.8px;font-weight:400;color:#000;font-family:'Liberation Sans', sans-serif;word-spacing:0.04em;transform:scaleX(1.0450)">Air Filters</span>
<span class="t" id="t53" style="left:954.00px;top:603.00px;font-size:12.8px;font-weight:400;color:#000;font-family:'Liberation Sans', sans-serif;word-spacing:0.04em;transform:scaleX(1.0063)">Lack of Awareness of Risks</span>
<span class="t" id="t54" style="left:954.00px;top:620.00px;font-size:12.8px;font-weight:400;color:#000;font-family:'Liberation Sans', sans-serif;word-spacing:0.04em;transform:scaleX(1.0074)">Caused by Dust Particles</span>
</body></html>
